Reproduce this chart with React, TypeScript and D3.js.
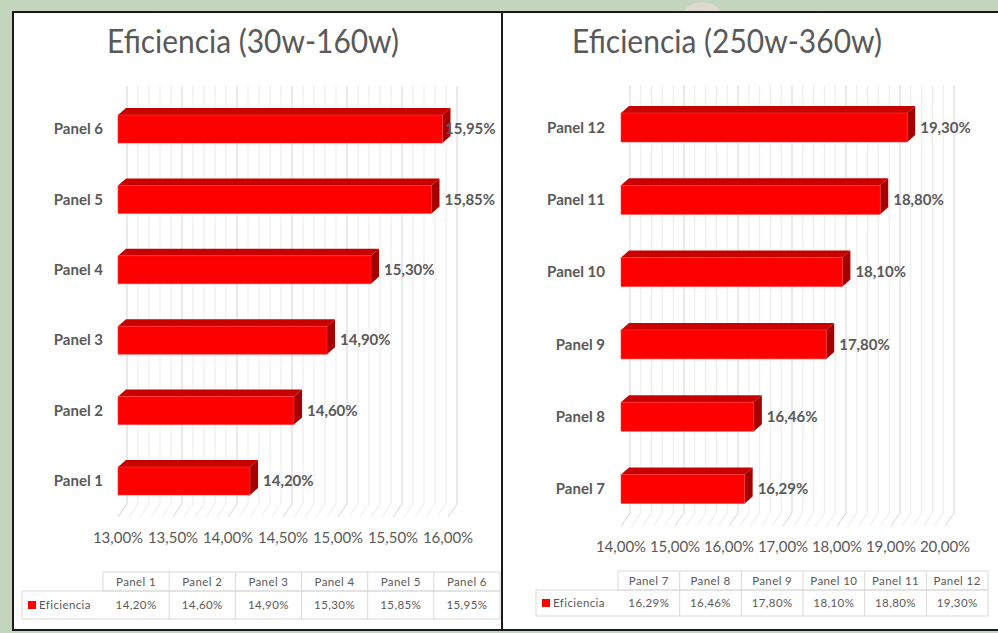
import React from 'react';
import * as d3 from 'd3';

// Efficiency per panel, two groups
const leftCategories = ['Panel 1', 'Panel 2', 'Panel 3', 'Panel 4', 'Panel 5', 'Panel 6'];
const leftValues = [14.2, 14.6, 14.9, 15.3, 15.85, 15.95];
const leftTicks = [13, 13.5, 14, 14.5, 15, 15.5, 16];

const rightCategories = ['Panel 7', 'Panel 8', 'Panel 9', 'Panel 10', 'Panel 11', 'Panel 12'];
const rightValues = [16.29, 16.46, 17.8, 18.1, 18.8, 19.3];
const rightTicks = [14, 15, 16, 17, 18, 19, 20];

const seriesName = 'Eficiencia';
const FONT = 'Lato, "Open Sans", sans-serif';
const TEXT = '#595959';

const pct = (v: number) => d3.format('.2f')(v).replace('.', ',') + '%';

type ChartCfg = {
  title: string;
  titleX: number;
  titleLen: number;
  categories: string[];
  values: number[];
  ticks: number[];
  domain: [number, number];
  xRange: [number, number];
  yRange: [number, number];
  barH: number;
  gridTop: number;
  floorY: number;
  minorStep: number;
  tickY: number;
  catX: number;
  labelMaxX: number;
  table: { x0: number; x1: number; x2: number; y0: number; y1: number; y2: number };
};

const leftCfg: ChartCfg = {
  title: 'Eficiencia (30w-160w)',
  titleX: 253,
  titleLen: 292,
  categories: leftCategories,
  values: leftValues,
  ticks: leftTicks,
  domain: [13, 16],
  xRange: [118, 448],
  yRange: [93.8, 516.2],
  barH: 28,
  gridTop: 86,
  floorY: 517,
  minorStep: 0.1,
  tickY: 543,
  catX: 103,
  labelMaxX: 445,
  table: { x0: 22, x1: 103, x2: 500, y0: 572, y1: 591, y2: 619 },
};

const rightCfg: ChartCfg = {
  title: 'Eficiencia (250w-360w)',
  titleX: 727,
  titleLen: 310,
  categories: rightCategories,
  values: rightValues,
  ticks: rightTicks,
  domain: [14, 20],
  xRange: [621, 945],
  yRange: [91.35, 525.15],
  barH: 29,
  gridTop: 85,
  floorY: 526,
  minorStep: 0.2,
  tickY: 552,
  catX: 605,
  labelMaxX: 980,
  table: { x0: 536, x1: 618, x2: 988, y0: 571, y1: 590, y2: 616 },
};

// 3D depth of the bars and of the wall/floor grid
const BAR_DX = 8;
const BAR_DY = 7;
const WALL_DX = 9;
const WALL_DY = 13;

function Chart({ cfg }: { cfg: ChartCfg }) {
  const x = d3.scaleLinear().domain(cfg.domain).range(cfg.xRange);
  const order = [...cfg.categories].reverse();
  const y = d3.scalePoint<string>().domain(order).range(cfg.yRange).padding(0.5);

  const minor = d3.range(cfg.domain[0], cfg.domain[1] + 1e-9, cfg.minorStep);
  const isMajor = (v: number) => cfg.ticks.some((t) => Math.abs(t - v) < 1e-6);

  const cols = cfg.categories.length;
  const t = cfg.table;
  const colX = d3.scaleLinear().domain([0, cols]).range([t.x1, t.x2]);

  return (
    <g>
      <text
        x={cfg.titleX}
        y={53}
        textAnchor="middle"
        fontFamily={FONT}
        fontSize={32}
        fill={TEXT}
        textLength={cfg.titleLen}
        lengthAdjust="spacingAndGlyphs"
      >
        {cfg.title}
      </text>

      {/* back wall and floor gridlines */}
      {minor.map((v, i) => {
        const fx = x(v);
        const bx = fx + WALL_DX;
        const stroke = isMajor(v) ? '#d4d4d4' : '#ebebeb';
        return (
          <g key={i}>
            <line x1={bx} x2={bx} y1={cfg.gridTop} y2={cfg.floorY - WALL_DY} stroke={stroke} strokeWidth={1} />
            <line x1={bx} x2={fx} y1={cfg.floorY - WALL_DY} y2={cfg.floorY} stroke={stroke} strokeWidth={1} />
          </g>
        );
      })}

      {/* bars */}
      {cfg.categories.map((c, i) => {
        const v = cfg.values[i];
        const x0 = x(cfg.domain[0]);
        const x1 = x(v);
        const cy = y(c) as number;
        const y0 = cy - cfg.barH / 2;
        const y1 = cy + cfg.barH / 2;
        const top = `${x0},${y0} ${x0 + BAR_DX},${y0 - BAR_DY} ${x1 + BAR_DX},${y0 - BAR_DY} ${x1},${y0}`;
        const side = `${x1},${y0} ${x1 + BAR_DX},${y0 - BAR_DY} ${x1 + BAR_DX},${y1 - BAR_DY} ${x1},${y1}`;
        const lx = Math.min(x1 + 13, cfg.labelMaxX);
        return (
          <g key={c}>
            <polygon points={top} fill="#c80000" />
            <polygon points={side} fill="#a30000" />
            <rect x={x0} y={y0} width={x1 - x0} height={y1 - y0} fill="#ff0000" stroke="#ff3b3b" strokeWidth={0.6} />
            <text
              x={cfg.catX}
              y={cy}
              dy="0.35em"
              textAnchor="end"
              fontFamily={FONT}
              fontSize={15}
              fontWeight="bold"
              fill={TEXT}
            >
              {c}
            </text>
            <text x={lx} y={cy} dy="0.35em" fontFamily={FONT} fontSize={15} fontWeight="bold" fill={TEXT}>
              {pct(v)}
            </text>
          </g>
        );
      })}

      {/* value axis labels */}
      {cfg.ticks.map((tv) => (
        <text key={tv} x={x(tv)} y={cfg.tickY} textAnchor="middle" fontFamily={FONT} fontSize={15} fill={TEXT}>
          {pct(tv)}
        </text>
      ))}

      {/* data table */}
      <g stroke="#d9d9d9" strokeWidth={1} fill="none">
        <rect x={t.x1} y={t.y0} width={t.x2 - t.x1} height={t.y1 - t.y0} />
        <rect x={t.x0} y={t.y1} width={t.x2 - t.x0} height={t.y2 - t.y1} />
        {d3.range(1, cols).map((k) => (
          <line key={k} x1={colX(k)} x2={colX(k)} y1={t.y0} y2={t.y2} />
        ))}
      </g>
      {cfg.categories.map((c, i) => {
        const cx = (colX(i) + colX(i + 1)) / 2;
        return (
          <g key={c} fontFamily={FONT} fontSize={11.5} fill={TEXT} textAnchor="middle" letterSpacing={0.4}>
            <text x={cx} y={(t.y0 + t.y1) / 2} dy="0.35em">
              {c}
            </text>
            <text x={cx} y={(t.y1 + t.y2) / 2} dy="0.35em">
              {pct(cfg.values[i])}
            </text>
          </g>
        );
      })}
      <rect x={t.x0 + 6} y={(t.y1 + t.y2) / 2 - 4} width={8} height={8} fill="#ff0000" />
      <text
        x={t.x0 + 17}
        y={(t.y1 + t.y2) / 2}
        dy="0.35em"
        fontFamily={FONT}
        fontSize={11.5}
        fill={TEXT}
        letterSpacing={0.4}
      >
        {seriesName}
      </text>
    </g>
  );
}

export default function App() {
  return (
    <svg
      width={998}
      height={633}
      viewBox="0 0 998 633"
      style={{ position: 'absolute', left: 0, top: 0, display: 'block' }}
    >
      <rect x={0} y={0} width={998} height={633} fill="#c3d5bd" />
      <circle cx={702} cy={26} r={24} fill="#e6d9d3" opacity={0.8} />
      {/* chart panels */}
      <rect x={13} y={12} width={1000} height={618} fill="#ffffff" stroke="#1a1a1a" strokeWidth={2} />
      <line x1={502} x2={502} y1={12} y2={631} stroke="#1a1a1a" strokeWidth={2} />
      <Chart cfg={leftCfg} />
      <Chart cfg={rightCfg} />
    </svg>
  );
}
